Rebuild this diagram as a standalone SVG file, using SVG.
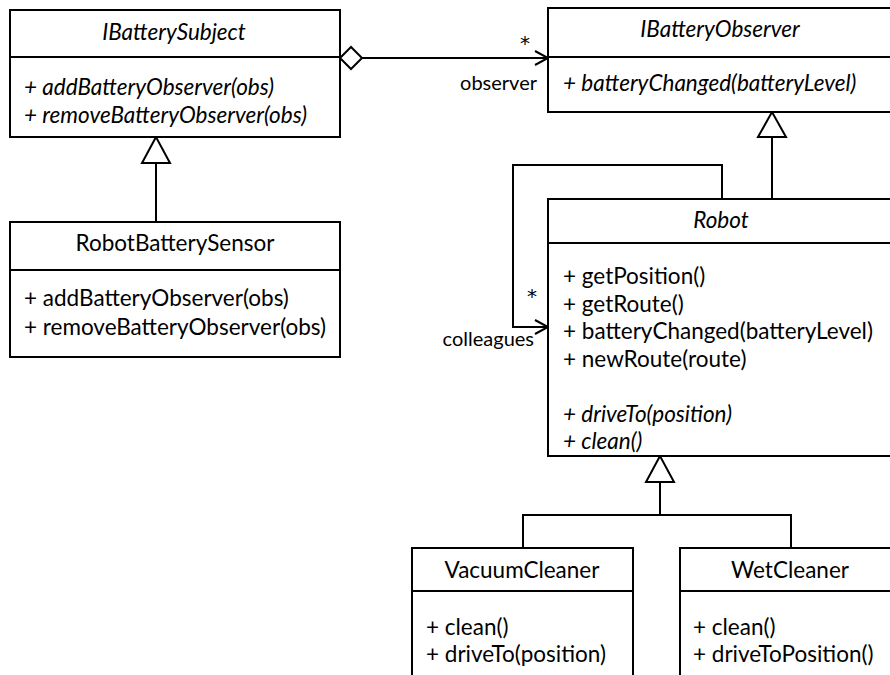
<svg xmlns="http://www.w3.org/2000/svg" width="890" height="675" viewBox="0 0 890 675">
<style>
  .box { fill: #ffffff; stroke: #000000; stroke-width: 2; }
  .ln { fill: none; stroke: #000000; stroke-width: 2; }
  .tri { fill: #ffffff; stroke: #000000; stroke-width: 2; stroke-linejoin: miter; }
  text { font-family: Lato, "Liberation Sans", sans-serif; font-size: 22.5px; fill: #000000; }
  .title { text-anchor: middle; }
  .it { font-style: italic; }
  .lbl { text-anchor: end; font-size: 20px; }
  .star { text-anchor: middle; font-family: "DejaVu Sans", sans-serif; font-size: 20px; }
</style>
<rect width="890" height="675" fill="#ffffff"/>

<g id="connectors">
  <!-- aggregation IBatterySubject -> IBatteryObserver -->
  <line class="ln" x1="362" y1="58" x2="548" y2="58"/>
  <polygon class="tri" points="340,58 351,47 362,58 351,69"/>
  <polyline class="ln" points="535,51 548,58 535,65"/>
  <text class="star" x="525" y="50">*</text>
  <text class="lbl" x="537" y="90">observer</text>

  <!-- RobotBatterySensor generalization -->
  <line class="ln" x1="156" y1="163" x2="156" y2="222"/>
  <polygon class="tri" points="156,137 142,163 170,163"/>

  <!-- Robot generalization to IBatteryObserver -->
  <line class="ln" x1="772" y1="137" x2="772" y2="199"/>
  <polygon class="tri" points="772,112 758,137 786,137"/>

  <!-- self association colleagues -->
  <polyline class="ln" points="722,199 722,165 513,165 513,327 547,327"/>
  <polyline class="ln" points="535,320 548,327 535,334"/>
  <text class="star" x="532" y="303">*</text>
  <text class="lbl" x="534" y="346">colleagues</text>

  <!-- VacuumCleaner / WetCleaner generalization -->
  <polyline class="ln" points="523,548 523,515 791,515 791,548"/>
  <line class="ln" x1="660" y1="482" x2="660" y2="515"/>
  <polygon class="tri" points="660,456 646,482 674,482"/>
</g>

<g id="IBatterySubject">
  <rect class="box" x="10" y="10" width="330" height="127"/>
  <line class="ln" x1="10" y1="57" x2="340" y2="57"/>
  <text class="title it" x="174" y="40">IBatterySubject</text>
  <text class="it" x="24" y="95">+ addBatteryObserver(obs)</text>
  <text class="it" x="24" y="123">+ removeBatteryObserver(obs)</text>
</g>

<g id="IBatteryObserver">
  <rect class="box" x="548" y="8" width="346" height="104"/>
  <line class="ln" x1="548" y1="57" x2="894" y2="57"/>
  <text class="title it" x="720" y="37">IBatteryObserver</text>
  <text class="it" x="563" y="91">+ batteryChanged(batteryLevel)</text>
</g>

<g id="RobotBatterySensor">
  <rect class="box" x="10" y="222" width="330" height="135"/>
  <line class="ln" x1="10" y1="270" x2="340" y2="270"/>
  <text class="title" x="175" y="251">RobotBatterySensor</text>
  <text x="24" y="306">+ addBatteryObserver(obs)</text>
  <text x="24" y="335">+ removeBatteryObserver(obs)</text>
</g>

<g id="Robot">
  <rect class="box" x="548" y="199" width="346" height="257"/>
  <line class="ln" x1="548" y1="243" x2="894" y2="243"/>
  <text class="title it" x="721" y="228">Robot</text>
  <text x="563" y="284">+ getPosition()</text>
  <text x="563" y="312">+ getRoute()</text>
  <text x="563" y="339">+ batteryChanged(batteryLevel)</text>
  <text x="563" y="367">+ newRoute(route)</text>
  <text class="it" x="563" y="422">+ driveTo(position)</text>
  <text class="it" x="563" y="449">+ clean()</text>
</g>

<g id="VacuumCleaner">
  <rect class="box" x="412" y="548" width="221" height="140"/>
  <line class="ln" x1="412" y1="591" x2="633" y2="591"/>
  <text class="title" x="522" y="578">VacuumCleaner</text>
  <text x="426" y="635">+ clean()</text>
  <text x="426" y="662">+ driveTo(position)</text>
</g>

<g id="WetCleaner">
  <rect class="box" x="680" y="548" width="220" height="140"/>
  <line class="ln" x1="680" y1="591" x2="900" y2="591"/>
  <text class="title" x="790" y="578">WetCleaner</text>
  <text x="693" y="635">+ clean()</text>
  <text x="693" y="662">+ driveToPosition()</text>
</g>
</svg>
